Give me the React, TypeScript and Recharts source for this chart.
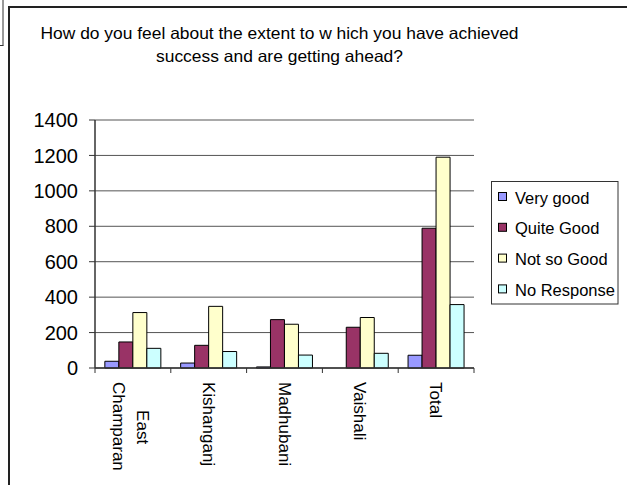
import { Bar, BarChart, CartesianGrid, XAxis, YAxis } from 'recharts';

const CATEGORIES = ['East Champaran', 'Kishanganj', 'Madhubani', 'Vaishali', 'Total'];
const CATEGORY_LINES = [['East', 'Champaran'], ['Kishanganj'], ['Madhubani'], ['Vaishali'], ['Total']];

const VERY_GOOD = [38, 28, 6, 0, 72];
const QUITE_GOOD = [147, 128, 273, 230, 789];
const NOT_SO_GOOD = [313, 348, 247, 285, 1190];
const NO_RESPONSE = [111, 93, 73, 83, 358];

const Y_TICKS = [0, 200, 400, 600, 800, 1000, 1200, 1400];

const SERIES = [
  { key: 'veryGood', name: 'Very good', color: '#9999FF', values: VERY_GOOD },
  { key: 'quiteGood', name: 'Quite Good', color: '#993366', values: QUITE_GOOD },
  { key: 'notSoGood', name: 'Not so Good', color: '#FFFFCC', values: NOT_SO_GOOD },
  { key: 'noResponse', name: 'No Response', color: '#CCFFFF', values: NO_RESPONSE },
];

const TITLE_LINES = [
  'How  do you feel about the extent to w hich you have achieved',
  'success and are getting ahead?',
];

const FONT = '"Liberation Sans", Arial, sans-serif';

const data = CATEGORIES.map((name, i) => {
  const row: Record<string, string | number> = { name };
  SERIES.forEach((s) => {
    row[s.key] = s.values[i];
  });
  return row;
});

function CategoryTick(props: any) {
  const { x, y, payload, index, visibleTicksCount } = props;
  const half = payload.offset ?? 0;
  const lines = CATEGORY_LINES[index] ?? [String(payload.value)];
  const isLast = index === visibleTicksCount - 1;
  const fs = 17;
  // longest line starts right under the axis, the others are centred on it
  const longest = lines.reduce((a, b) => (b.length > a.length ? b : a), '');
  const longestLen = longest.length * fs * 0.59;
  const offsets = lines.length === 1 ? [0] : [-9.6, 14.4];
  return (
    <g>
      <line x1={x - half} y1={y} x2={x - half} y2={y + 5} stroke="#333" />
      {isLast && <line x1={x + half} y1={y} x2={x + half} y2={y + 5} stroke="#333" />}
      <g transform={`translate(${x},${y + 14}) rotate(90)`}>
        {lines.map((line, i) => {
          const isLongest = line === longest;
          return (
            <text
              key={line}
              x={isLongest ? 0 : longestLen / 2}
              y={offsets[i]}
              dy="0.35em"
              textAnchor={isLongest ? 'start' : 'middle'}
              fontSize={fs}
              fontFamily={FONT}
              fill="#000"
            >
              {line}
            </text>
          );
        })}
      </g>
    </g>
  );
}

export default function App() {
  return (
    <div style={{ position: 'absolute', left: 0, top: 0, width: 627, height: 485, background: '#fff' }}>
      <BarChart
        width={627}
        height={485}
        data={data}
        margin={{ top: 120, right: 153, bottom: 7, left: 35 }}
        barCategoryGap="13%"
        barGap={0}
      >
        <CartesianGrid vertical={false} stroke="#555" />
        <XAxis
          dataKey="name"
          height={110}
          tickSize={0}
          tickMargin={0}
          tickLine={false}
          interval={0}
          axisLine={{ stroke: '#333', strokeWidth: 1.5 }}
          tick={<CategoryTick />}
        />
        <YAxis
          width={60}
          domain={[0, 1400]}
          ticks={Y_TICKS}
          interval={0}
          tickSize={6}
          tickMargin={11}
          axisLine={{ stroke: '#333', strokeWidth: 1.5 }}
          tickLine={{ stroke: '#333' }}
          tick={{ fill: '#000', fontSize: 20, fontFamily: FONT }}
        />
        <YAxis
          yAxisId="r"
          orientation="right"
          width={0}
          tick={false}
          tickLine={false}
          axisLine={{ stroke: '#777' }}
        />
        {SERIES.map((s) => (
          <Bar
            key={s.key}
            dataKey={s.key}
            name={s.name}
            fill={s.color}
            stroke="#000"
            strokeWidth={1}
            isAnimationActive={false}
          />
        ))}
      </BarChart>
      <svg
        width={627}
        height={485}
        style={{ position: 'absolute', left: 0, top: 0, pointerEvents: 'none' }}
        fontFamily={FONT}
      >
        {/* chart frame */}
        <line x1={9} y1={7} x2={627} y2={7} stroke="#222" strokeWidth={2} />
        <line x1={9} y1={6} x2={9} y2={485} stroke="#222" strokeWidth={2} />
        {/* corner of neighbouring box */}
        <line x1={3} y1={0} x2={3} y2={45.5} stroke="#333" strokeWidth={1} />
        <line x1={0} y1={45.5} x2={3.5} y2={45.5} stroke="#333" strokeWidth={1} />
        {/* title */}
        <text x={40.5} y={39} fontSize={16.5} fill="#000" textLength={478} lengthAdjust="spacingAndGlyphs">
          {TITLE_LINES[0]}
        </text>
        <text x={156} y={61.5} fontSize={16.5} fill="#000" textLength={247} lengthAdjust="spacingAndGlyphs">
          {TITLE_LINES[1]}
        </text>
        {/* legend */}
        <rect x={491.5} y={181.5} width={126.5} height={122.5} fill="#fff" stroke="#333" />
        {SERIES.map((s, i) => (
          <g key={s.key}>
            <rect x={498.5} y={192.5 + i * 30.8} width={8} height={8} fill={s.color} stroke="#000" />
            <text x={515} y={203.5 + i * 30.8} fontSize={16.5} fill="#000">
              {s.name}
            </text>
          </g>
        ))}
      </svg>
    </div>
  );
}
